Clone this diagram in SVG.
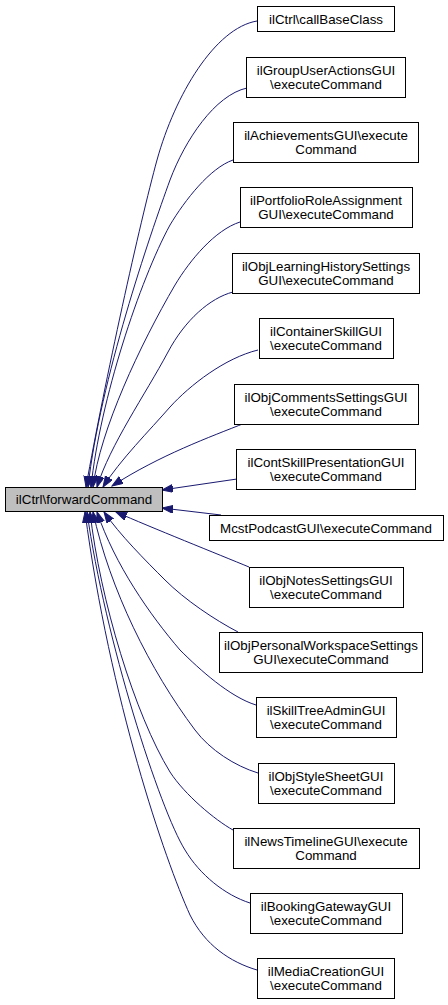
<svg xmlns="http://www.w3.org/2000/svg" width="448" height="1005" viewBox="0 0 448 1005">
<style>
.n rect{fill:#fff;stroke:#000;stroke-width:1}
.m rect{fill:#bfbfbf;stroke:#000;stroke-width:1}
text{font-family:"Liberation Sans",Arial,sans-serif;font-size:13.33px;fill:#000;text-anchor:middle}
.e path{fill:none;stroke:#191970;stroke-width:1;marker-end:url(#ah)}
</style>
<defs>
<marker id="ah" markerUnits="userSpaceOnUse" markerWidth="12" markerHeight="9" refX="11" refY="4" orient="auto">
<path d="M0,0 L11,4 L0,8 z" fill="#191970" stroke="#191970" stroke-width="1"/>
</marker>
</defs>
<rect width="448" height="1005" fill="#fff"/>
<g id="edges" class="e">
<path d="M257,21 C215,28 175,95 157,160 C140,222 105,380 86,487"/>
<path d="M247,88 C215,95 185,140 170,180 C150,235 100,380 88,487"/>
<path d="M233,160 C210,168 185,200 170,225 C140,280 100,400 91,487"/>
<path d="M240,222 C215,230 190,260 175,285 C140,345 100,430 93,487"/>
<path d="M233,292 C210,298 185,320 168,352 C145,395 110,445 97,487"/>
<path d="M258,350 C225,358 190,385 170,407 C150,430 120,460 103,487"/>
<path d="M245,423 C210,437 160,455 112,486"/>
<path d="M237,479 L162,490"/>
<path d="M221,515 L162,508"/>
<path d="M249,567 C220,555 150,527 116,512"/>
<path d="M238,632 C215,620 185,600 165,580 C145,560 120,535 104,512"/>
<path d="M256,705 C230,697 200,670 180,650 C150,615 115,565 97,512"/>
<path d="M258,773 C235,766 210,750 195,730 C150,670 110,590 93,512"/>
<path d="M233,830 C215,820 185,795 170,772 C135,715 100,600 90,512"/>
<path d="M250,903 C225,895 200,875 185,850 C160,810 105,640 87,512"/>
<path d="M257,970 C230,962 205,945 190,915 C165,860 110,700 85,512"/>
</g>
<g id="main" class="m"><rect x="5.5" y="487.5" width="157" height="24"/><text x="84" y="504">ilCtrl\forwardCommand</text></g>
<g id="n1" class="n"><rect x="257.5" y="6.5" width="137" height="25"/><text x="326" y="23.5">ilCtrl\callBaseClass</text></g>
<g id="n2" class="n"><rect x="246.5" y="57.5" width="159" height="40"/><text x="326" y="74.5">ilGroupUserActionsGUI</text><text x="326" y="88.5">\executeCommand</text></g>
<g id="n3" class="n"><rect x="233.5" y="122.5" width="185" height="40"/><text x="326" y="139.5">ilAchievementsGUI\execute</text><text x="326" y="153.5">Command</text></g>
<g id="n4" class="n"><rect x="240.5" y="187.5" width="172" height="40"/><text x="326" y="204.5">ilPortfolioRoleAssignment</text><text x="326" y="218.5">GUI\executeCommand</text></g>
<g id="n5" class="n"><rect x="232.5" y="253.5" width="187" height="40"/><text x="326" y="270.5">ilObjLearningHistorySettings</text><text x="326" y="284.5">GUI\executeCommand</text></g>
<g id="n6" class="n"><rect x="259.5" y="318.5" width="134" height="40"/><text x="326" y="335.5">ilContainerSkillGUI</text><text x="326" y="349.5">\executeCommand</text></g>
<g id="n7" class="n"><rect x="234.5" y="384.5" width="184" height="40"/><text x="326" y="401.5">ilObjCommentsSettingsGUI</text><text x="326" y="415.5">\executeCommand</text></g>
<g id="n8" class="n"><rect x="236.5" y="449.5" width="179" height="40"/><text x="326" y="466.5">ilContSkillPresentationGUI</text><text x="326" y="480.5">\executeCommand</text></g>
<g id="n9" class="n"><rect x="209.5" y="515.5" width="234" height="25"/><text x="326" y="532.5">McstPodcastGUI\executeCommand</text></g>
<g id="n10" class="n"><rect x="249.5" y="567.5" width="154" height="40"/><text x="326" y="584.5">ilObjNotesSettingsGUI</text><text x="326" y="598.5">\executeCommand</text></g>
<g id="n11" class="n"><rect x="219.5" y="632.5" width="203" height="40"/><text x="321" y="649.5">ilObjPersonalWorkspaceSettings</text><text x="321" y="663.5">GUI\executeCommand</text></g>
<g id="n12" class="n"><rect x="256.5" y="697.5" width="140" height="40"/><text x="326" y="714.5">ilSkillTreeAdminGUI</text><text x="326" y="728.5">\executeCommand</text></g>
<g id="n13" class="n"><rect x="258.5" y="763.5" width="136" height="40"/><text x="326" y="780.5">ilObjStyleSheetGUI</text><text x="326" y="794.5">\executeCommand</text></g>
<g id="n14" class="n"><rect x="233.5" y="828.5" width="186" height="40"/><text x="326" y="845.5">ilNewsTimelineGUI\execute</text><text x="326" y="859.5">Command</text></g>
<g id="n15" class="n"><rect x="250.5" y="893.5" width="152" height="40"/><text x="326" y="910.5">ilBookingGatewayGUI</text><text x="326" y="924.5">\executeCommand</text></g>
<g id="n16" class="n"><rect x="257.5" y="958.5" width="137" height="40"/><text x="326" y="975.5">ilMediaCreationGUI</text><text x="326" y="989.5">\executeCommand</text></g>
</svg>
